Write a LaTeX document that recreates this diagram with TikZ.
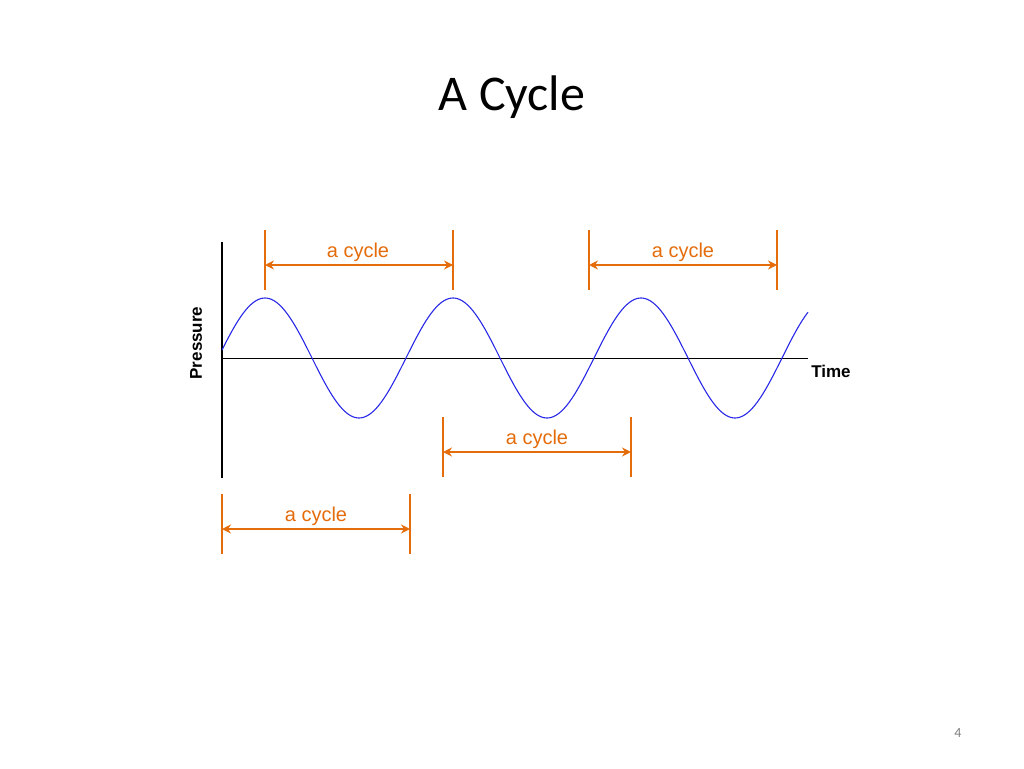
\documentclass[tikz,border=0pt]{standalone}
\usepackage{fontspec}
\setmainfont{Carlito}
\newfontfamily\arialfont{Liberation Sans}
\usetikzlibrary{arrows.meta, positioning}
\definecolor{cycleorange}{RGB}{228,108,10}
\definecolor{waveblue}{RGB}{40,40,230}

\begin{document}
\begin{tikzpicture}[%
    x=1pt, y=-1pt,
    >={Stealth[length=9pt,width=9pt]},
    bar/.style={draw=cycleorange, line width=2.6pt},
    span/.style={draw=cycleorange, line width=2.6pt, <->},
    cyclelabel/.style={text=cycleorange, font=\arialfont\fontsize{20}{22}\selectfont, inner sep=0pt},
    axislabel/.style={font=\arialfont\bfseries\fontsize{17}{19}\selectfont, inner sep=0pt}
  ]
  \useasboundingbox (0,0) rectangle (1024,768);

  \node[font=\fontsize{50}{56}\selectfont] (title) at (512,97) {A Cycle};

  % Axes
  \coordinate (ytop) at (222,242);
  \coordinate (ybot) at (222,478);
  \coordinate (xend) at (808,358);
  \draw[line width=1.6pt] (ytop) -- (ybot);
  \draw[line width=0.8pt] (222,358) -- (xend);
  \node[axislabel, rotate=90] (pressure) at (196,343) {Pressure};
  \node[axislabel] (time) at (831,371) {Time};

  % Wave
  \draw[waveblue, line width=1.1pt, domain=222:808, samples=300]
    plot (\x, {358-60*sin(1.91489*(\x-218))});

  % Cycle brackets
  \foreach \name/\xa/\ya/\lx in {c1/265/265/358, c2/589/265/683, c3/443/452/537, c4/222/529/316}{
    \coordinate (\name a) at (\xa,\ya);
    \coordinate (\name b) at (\xa+188,\ya);
    \draw[bar] (\xa,\ya-35) -- (\xa,\ya+25);
    \draw[bar] (\xa+188,\ya-35) -- (\xa+188,\ya+25);
    \draw[span] (\name a) -- (\name b);
    \node[cyclelabel] (\name label) at (\lx,\ya-13) {a cycle};
  }

  \node[text=gray, font=\fontsize{14}{16}\selectfont] (page) at (958,733) {4};
\end{tikzpicture}
\end{document}
